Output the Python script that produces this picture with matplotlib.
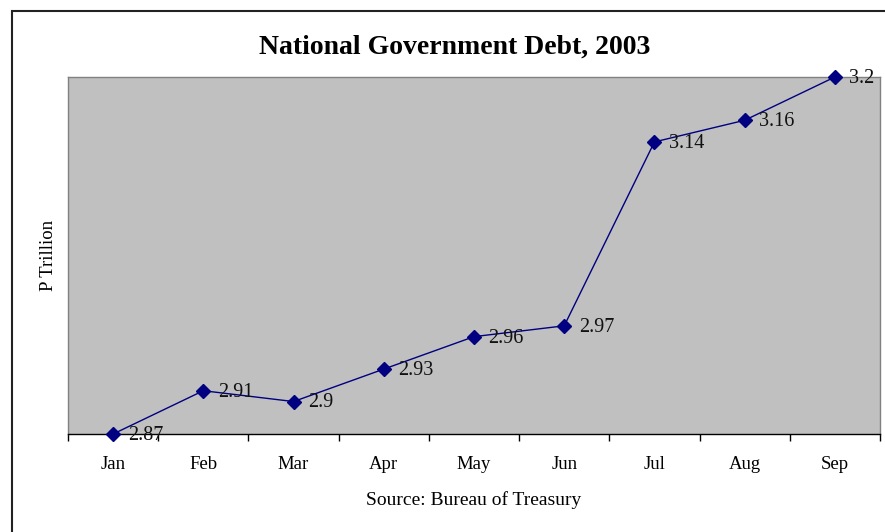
import matplotlib.pyplot as plt
from matplotlib.patches import Rectangle

months = ['Jan', 'Feb', 'Mar', 'Apr', 'May', 'Jun', 'Jul', 'Aug', 'Sep']
debt = [2.87, 2.91, 2.90, 2.93, 2.96, 2.97, 3.14, 3.16, 3.20]
labels = ['2.87', '2.91', '2.9', '2.93', '2.96', '2.97', '3.14', '3.16', '3.2']

plt.rcParams['font.family'] = ['Liberation Serif', 'DejaVu Serif']

fig = plt.figure(figsize=(8.85, 5.32), dpi=100)
ax = fig.add_axes([68 / 885, 1 - 434 / 532, 812 / 885, 357 / 532])
ax.set_facecolor('#c0c0c0')

# figure border (runs off right and bottom edges)
fig.patches.append(Rectangle((12 / 885, -0.1), 1.0, 1 - 11 / 532 + 0.1,
                             transform=fig.transFigure, fill=False,
                             edgecolor='#222222', linewidth=1.5))

x = range(len(months))
ax.plot(x, debt, color='#000080', linewidth=1, marker='D', markersize=7,
        clip_on=False, zorder=3)
for i, (v, t) in enumerate(zip(debt, labels)):
    ax.annotate(t, (i, v), xytext=(10.5, -1), textcoords='offset points',
                ha='left', va='center', fontsize=14.5, color='#111111', zorder=4)

ax.set_xlim(-0.5, len(months) - 0.5)
ax.set_ylim(2.87, 3.20)
ax.set_xticks([i - 0.5 for i in range(len(months) + 1)])
ax.set_xticklabels([])
ax.set_xticks(list(x), minor=True)
ax.set_xticklabels(months, minor=True, fontsize=13.5)
ax.tick_params(axis='x', which='major', direction='out', length=5, width=1)
ax.tick_params(axis='x', which='minor', length=0, pad=16)
ax.set_yticks([])

for s in ['left', 'top', 'right']:
    ax.spines[s].set_color('#808080')
    ax.spines[s].set_linewidth(1)
ax.spines['bottom'].set_color('black')
ax.spines['bottom'].set_linewidth(1)

ax.set_ylabel('P Trillion', fontsize=13.5, labelpad=8)
ax.set_xlabel('Source: Bureau of Treasury', fontsize=14, labelpad=13)
fig.text(455 / 885, 1 - 47 / 532, 'National Government Debt, 2003',
         ha='center', va='center', fontsize=20, fontweight='bold')

fig.savefig('out.png', dpi=100)
